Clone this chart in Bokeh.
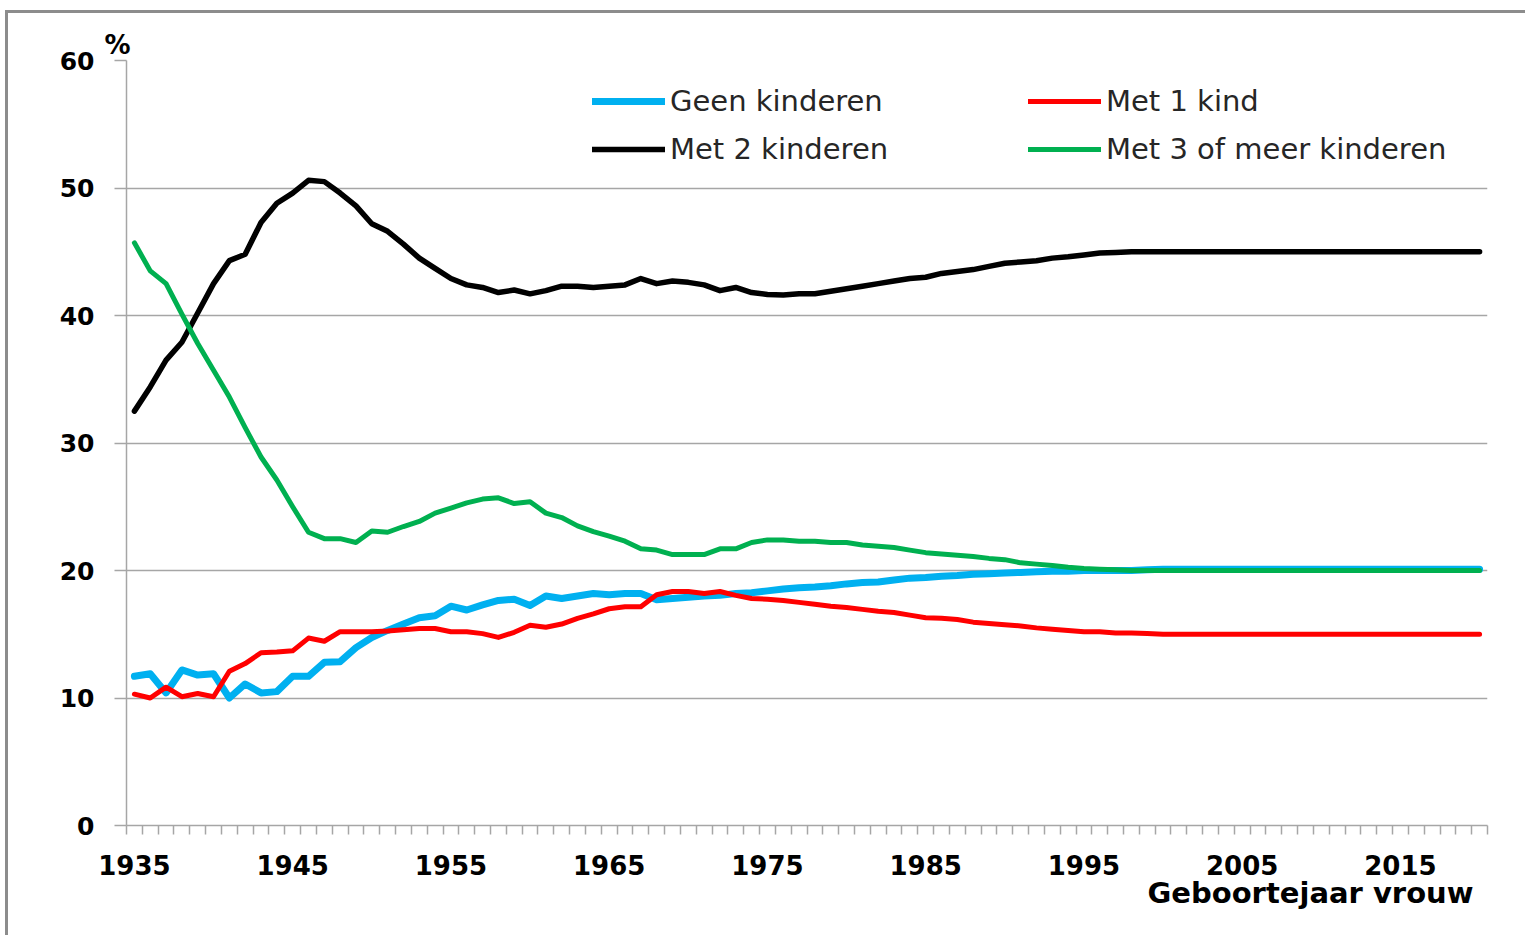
from bokeh.plotting import figure
from bokeh.models import Range1d, FixedTicker, Legend, LegendItem, Title
from bokeh.embed import file_html
from bokeh.resources import INLINE

years = list(range(1935, 2021))

geen_kinderen = [11.7, 11.9, 10.4, 12.2, 11.8, 11.9, 10.0, 11.1, 10.4, 10.5,
                 11.7, 11.7, 12.8, 12.85, 13.95, 14.75, 15.3, 15.8, 16.3, 16.45,
                 17.2, 16.9, 17.3, 17.65, 17.75, 17.25, 18.0, 17.8, 18.0, 18.2,
                 18.1, 18.2, 18.2, 17.7, 17.8, 17.9, 18.0, 18.05, 18.2, 18.25,
                 18.4, 18.55, 18.65, 18.7, 18.8, 18.95, 19.05, 19.1, 19.25, 19.4,
                 19.45, 19.55, 19.6, 19.7, 19.75, 19.8, 19.85, 19.9, 19.95, 19.95,
                 20.0, 20.0, 20.0, 20.0, 20.05, 20.1, 20.1, 20.1, 20.1, 20.1,
                 20.1, 20.1, 20.1, 20.1, 20.1, 20.1, 20.1, 20.1, 20.1, 20.1,
                 20.1, 20.1, 20.1, 20.1, 20.1, 20.1]

met_1_kind = [10.3, 10.0, 10.85, 10.1, 10.35, 10.1, 12.1, 12.7, 13.55, 13.6,
              13.7, 14.7, 14.45, 15.2, 15.2, 15.2, 15.25, 15.35, 15.45, 15.45,
              15.2, 15.2, 15.05, 14.75, 15.15, 15.7, 15.55, 15.8, 16.25, 16.6,
              17.0, 17.15, 17.15, 18.1, 18.35, 18.35, 18.2, 18.35, 18.05, 17.8,
              17.75, 17.65, 17.5, 17.35, 17.2, 17.1, 16.95, 16.8, 16.7, 16.5,
              16.3, 16.25, 16.15, 15.95, 15.85, 15.75, 15.65, 15.5, 15.4, 15.3,
              15.2, 15.2, 15.1, 15.1, 15.05, 15.0, 15.0, 15.0, 15.0, 15.0,
              15.0, 15.0, 15.0, 15.0, 15.0, 15.0, 15.0, 15.0, 15.0, 15.0,
              15.0, 15.0, 15.0, 15.0, 15.0, 15.0]

met_2_kinderen = [32.5, 34.4, 36.5, 37.9, 40.2, 42.5, 44.3, 44.8, 47.3, 48.8,
                  49.6, 50.6, 50.5, 49.6, 48.6, 47.2, 46.6, 45.6, 44.5, 43.7,
                  42.9, 42.4, 42.2, 41.8, 42.0, 41.7, 41.95, 42.3, 42.3, 42.2,
                  42.3, 42.4, 42.9, 42.5, 42.7, 42.6, 42.4, 41.95, 42.2, 41.8,
                  41.65, 41.6, 41.7, 41.7, 41.9, 42.1, 42.3, 42.5, 42.7, 42.9,
                  43.0, 43.3, 43.45, 43.6, 43.85, 44.1, 44.2, 44.3, 44.5, 44.6,
                  44.75, 44.9, 44.95, 45.0, 45.0, 45.0, 45.0, 45.0, 45.0, 45.0,
                  45.0, 45.0, 45.0, 45.0, 45.0, 45.0, 45.0, 45.0, 45.0, 45.0,
                  45.0, 45.0, 45.0, 45.0, 45.0, 45.0]

met_3_of_meer = [45.7, 43.5, 42.5, 40.1, 37.8, 35.7, 33.6, 31.2, 28.9, 27.1,
                 25.0, 23.0, 22.5, 22.5, 22.2, 23.1, 23.0, 23.45, 23.85, 24.5,
                 24.9, 25.3, 25.6, 25.7, 25.25, 25.4, 24.5, 24.15, 23.5, 23.05,
                 22.7, 22.3, 21.7, 21.6, 21.25, 21.25, 21.25, 21.7, 21.7, 22.2,
                 22.4, 22.4, 22.3, 22.3, 22.2, 22.2, 22.0, 21.9, 21.8, 21.6,
                 21.4, 21.3, 21.2, 21.1, 20.95, 20.85, 20.6, 20.5, 20.4, 20.25,
                 20.15, 20.1, 20.05, 20.0, 20.0, 20.0, 20.0, 20.0, 20.0, 20.0,
                 20.0, 20.0, 20.0, 20.0, 20.0, 20.0, 20.0, 20.0, 20.0, 20.0,
                 20.0, 20.0, 20.0, 20.0, 20.0, 20.0]

series_names = ["Geen kinderen", "Met 1 kind", "Met 2 kinderen", "Met 3 of meer kinderen"]
x_tick_years = [1935, 1945, 1955, 1965, 1975, 1985, 1995, 2005, 2015]
y_ticks = [0, 10, 20, 30, 40, 50, 60]
y_unit = "%"
x_title = "Geboortejaar vrouw"

GRID = "#a6a6a6"
FONT = "DejaVu Sans"

p = figure(width=1520, height=925, output_backend="svg", toolbar_location=None,
           x_range=Range1d(years[0] - 0.5, years[-1] + 0.5), y_range=Range1d(0, 60),
           min_border_left=118, min_border_right=41, min_border_top=47,
           min_border_bottom=113)
p.styles = {"border-left": "3px solid #8c8c8c", "border-top": "3px solid #8c8c8c",
            "margin-left": "5px", "margin-top": "10px"}
p.outline_line_color = None
p.background_fill_color = "white"
p.border_fill_color = "white"

# "%" unit above the y axis
p.title.text = y_unit
p.title.align = "left"
p.title.offset = -22
p.title.standoff = 2
p.title.text_font = FONT
p.title.text_font_style = "bold"
p.title.text_font_size = "26px"
p.title.text_color = "black"

# grid
p.xgrid.grid_line_color = None
p.ygrid.ticker = FixedTicker(ticks=y_ticks)
p.ygrid.grid_line_color = GRID
p.ygrid.grid_line_width = 1.5

# y axis
ya = p.yaxis[0]
ya.ticker = FixedTicker(ticks=y_ticks)
ya.axis_line_color = GRID
ya.axis_line_width = 1.5
ya.major_tick_line_color = GRID
ya.major_tick_line_width = 1.5
ya.major_tick_out = 12
ya.major_tick_in = 0
ya.minor_tick_line_color = None
ya.major_label_standoff = 20
ya.major_label_text_font = FONT
ya.major_label_text_font_style = "bold"
ya.major_label_text_font_size = "25px"
ya.major_label_text_color = "black"

# x axis
xa = p.xaxis[0]
xa.ticker = FixedTicker(ticks=x_tick_years,
                        minor_ticks=[y - 0.5 for y in years] + [years[-1] + 0.5])
xa.axis_line_color = GRID
xa.axis_line_width = 1.5
xa.major_tick_line_color = None
xa.major_tick_out = 0
xa.major_tick_in = 0
xa.minor_tick_line_color = GRID
xa.minor_tick_line_width = 1.5
xa.minor_tick_out = 9
xa.minor_tick_in = 0
xa.major_label_standoff = 20
xa.major_label_text_font = FONT
xa.major_label_text_font_style = "bold"
xa.major_label_text_font_size = "26px"
xa.major_label_text_color = "black"

xt = Title(text=x_title, align="right", offset=14, standoff=-8,
           text_font=FONT, text_font_style="bold", text_font_size="29px",
           text_color="black")
p.add_layout(xt, "below")

colors = ["#00B0F0", "#FF0000", "#000000", "#00B050"]
widths = [7, 5, 5.5, 5]
data = [geen_kinderen, met_1_kind, met_2_kinderen, met_3_of_meer]
renderers = []
for vals, c, w in zip(data, colors, widths):
    r = p.line(years, vals, line_color=c, line_width=w, line_join="round", line_cap="round")
    renderers.append(r)

def make_legend(items, loc):
    return Legend(items=items, location=loc, orientation="vertical",
                  padding=0, margin=0, spacing=14,
                  glyph_width=73, glyph_height=28, label_height=28,
                  label_standoff=5, border_line_color=None,
                  background_fill_alpha=0,
                  label_text_font=FONT, label_text_font_size="29px",
                  label_text_color="#262626")

leg1 = make_legend([LegendItem(label=series_names[0], renderers=[renderers[0]]),
                    LegendItem(label=series_names[2], renderers=[renderers[2]])], (466, 659))
leg2 = make_legend([LegendItem(label=series_names[1], renderers=[renderers[1]]),
                    LegendItem(label=series_names[3], renderers=[renderers[3]])], (902, 659))
p.add_layout(leg1, "center")
p.add_layout(leg2, "center")

open("out.html", "w").write(file_html(p, INLINE))
